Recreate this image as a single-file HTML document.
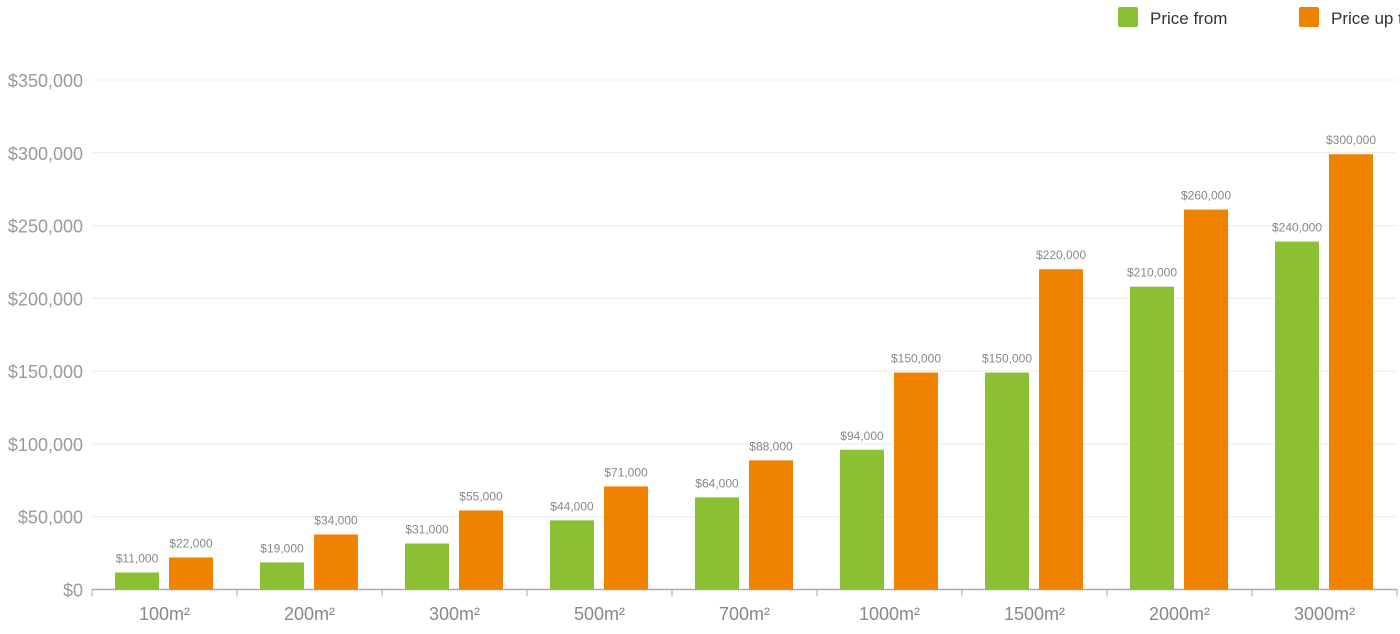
<!DOCTYPE html>
<html><head><meta charset="utf-8"><style>
html,body{margin:0;padding:0;background:#fff;width:1400px;height:634px;overflow:hidden}
svg text{font-family:"Liberation Sans",sans-serif}
</style></head><body>
<svg id="chart" width="1400" height="634" xmlns="http://www.w3.org/2000/svg">
<g id="grid"></g>
<g id="yaxis"></g>
<g id="xaxis"></g>
<g id="bars"></g>
<g>
<rect x="1118" y="7" width="20" height="20" rx="2" fill="#8cc034"/>
<text x="1150" y="24" font-size="17" fill="#333" style="font-family:'Liberation Sans Narrow','Liberation Sans',sans-serif">Price from</text>
<rect x="1299" y="7" width="20" height="20" rx="2" fill="#ef8200"/>
<text x="1331" y="24" font-size="17" fill="#333" style="font-family:'Liberation Sans Narrow','Liberation Sans',sans-serif">Price up to</text>
</g>
</svg>
<script>
const categories=["100m²","200m²","300m²","500m²","700m²","1000m²","1500m²","2000m²","3000m²"];
const priceFrom=[11700,18600,31600,47500,63300,96000,149000,208000,239000];
const priceUpTo=[22000,37800,54300,70800,88700,149000,220000,261000,299000];
const priceFromLabels=["$11,000","$19,000","$31,000","$44,000","$64,000","$94,000","$150,000","$210,000","$240,000"];
const priceUpToLabels=["$22,000","$34,000","$55,000","$71,000","$88,000","$150,000","$220,000","$260,000","$300,000"];
const yTicks=[0,50000,100000,150000,200000,250000,300000,350000];
const yTickLabels=["$0","$50,000","$100,000","$150,000","$200,000","$250,000","$300,000","$350,000"];

const NS="http://www.w3.org/2000/svg";
const x0=92,x1=1397,y0=589.5,yTop=80,yMax=350000;
const bandW=(x1-x0)/categories.length;
function yScale(v){return y0-(v/yMax)*(y0-yTop);}
function xBand(i){return x0+i*bandW;}
function mk(tag,attrs,parent){const e=document.createElementNS(NS,tag);for(const k in attrs)e.setAttribute(k,attrs[k]);parent.appendChild(e);return e;}
const grid=document.getElementById('grid'),ya=document.getElementById('yaxis'),xa=document.getElementById('xaxis'),bars=document.getElementById('bars');

yTicks.forEach((t,i)=>{
  const y=yScale(t);
  if(t>0){const l=mk('line',{x1:x0,x2:x1,y1:y,y2:y,stroke:'#ececec','stroke-width':1},grid);
  
  }
  const tx=mk('text',{x:83,y:y+7,'text-anchor':'end','font-size':18,fill:'#9a9a9a'},ya);
  tx.textContent=yTickLabels[i];
  
  
});
const ax=mk('line',{x1:x0,x2:x1,y1:y0,y2:y0,stroke:'#aaa','stroke-width':1.5},xa);


for(let i=0;i<=categories.length;i++){
  const x=xBand(i);
  const tk=mk('line',{x1:x,x2:x,y1:y0,y2:y0+7,stroke:'#aaa','stroke-width':1},xa);
  
  
}
categories.forEach((c,i)=>{
  const cx=xBand(i)+bandW/2;
  const t=mk('text',{x:cx,y:620,'text-anchor':'middle','font-size':18,fill:'#888'},xa);
  t.textContent=c;
  
  
  const bx=xBand(i)+23,bw=44;
  [[priceFrom,priceFromLabels,'#8cc034',bx,'bar-price-from'],[priceUpTo,priceUpToLabels,'#ef8200',bx+54,'bar-price-up-to']].forEach(([vals,labs,col,x,name])=>{
    const y=yScale(vals[i]);
    const r=mk('rect',{x:x,y:y,width:bw,height:y0-y,fill:col},bars);
    
    
    const lt=mk('text',{x:x+bw/2,y:y-10,'text-anchor':'middle','font-size':12,fill:'#888'},bars);
    lt.textContent=labs[i];
    
    
  });
});
</script>
</body></html>
